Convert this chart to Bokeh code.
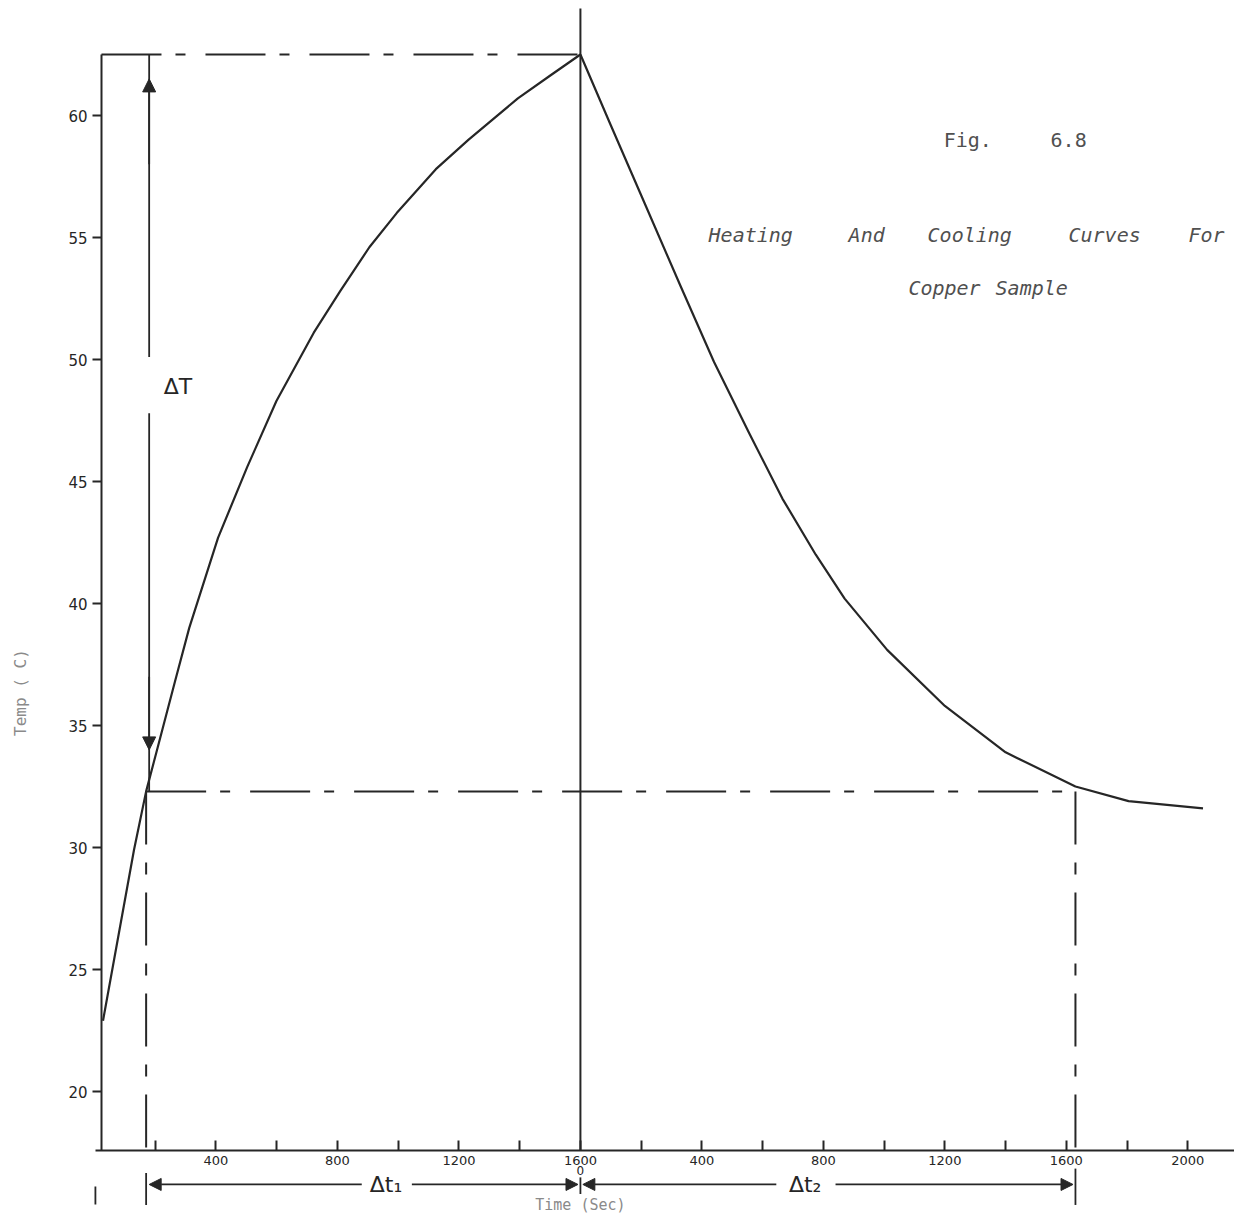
import math
from bokeh.plotting import figure
from bokeh.models import Range1d, FixedTicker, Arrow, NormalHead, ColumnDataSource
from bokeh.embed import file_html
from bokeh.resources import INLINE
from bokeh.core.properties import value

# ---------------- data ----------------
heat_time = [28, 130, 170, 208, 265, 312, 407, 503, 599, 722, 809, 905, 995, 1124, 1231, 1394, 1502, 1600]
heat_temp = [22.9, 29.9, 32.3, 34.1, 36.8, 39.0, 42.7, 45.6, 48.3, 51.1, 52.8, 54.6, 56.0, 57.8, 59.0, 60.7, 61.65, 62.5]

cool_time = [0, 100, 215, 330, 440, 555, 665, 775, 870, 1010, 1200, 1400, 1630, 1805, 2050]
cool_temp = [62.5, 59.6, 56.3, 53.0, 49.9, 47.0, 44.3, 42.0, 40.2, 38.1, 35.8, 33.9, 32.5, 31.9, 31.6]

peak_time = 1600      # heating ends / cooling starts (cooling time 0)
peak_temp = 62.5
ref_temp = 32.3       # dash-dot reference temperature
dt1_start = 170       # heating time where curve crosses ref_temp
dt2_end = 1630        # cooling time where curve crosses ref_temp

heat_tick_values = [200, 400, 600, 800, 1000, 1200, 1400, 1600]
heat_tick_labels = ["", "400", "", "800", "", "1200", "", "1600"]
cool_tick_values = [200, 400, 600, 800, 1000, 1200, 1400, 1600, 1800, 2000]
cool_tick_labels = ["", "400", "", "800", "", "1200", "", "1600", "", "2000"]
y_tick_values = [20, 25, 30, 35, 40, 45, 50, 55, 60]

# ---------------- build ----------------
ink = "#262626"
gray = "#8a8a8a"
title_gray = "#505050"
dashdot = "60 14 10 20"

W, H = 1234, 1216
PX_PER_S = 0.3037
PX_PER_C = 24.4
x_lo = -94 / PX_PER_S
x_hi = x_lo + W / PX_PER_S
y_hi = 60 + 115 / PX_PER_C
y_lo = y_hi - H / PX_PER_C

axis_temp = 17.58     # where the time axis is drawn
axis_time = 23        # where the temperature axis is drawn
top_line = 64.385     # upper end of the peak line

heat_x = list(heat_time)
cool_x = [peak_time + t for t in cool_time]

ticks = list(heat_tick_values) + [peak_time + t for t in cool_tick_values]
overrides = {}
for v, lab in zip(heat_tick_values, heat_tick_labels):
    overrides[v] = lab
for v, lab in zip(cool_tick_values, cool_tick_labels):
    overrides[peak_time + v] = lab

p = figure(width=W, height=H, output_backend="svg", toolbar_location=None,
           x_range=Range1d(x_lo, x_hi), y_range=Range1d(y_lo, y_hi),
           min_border=0, min_border_left=0, min_border_right=0,
           min_border_top=0, min_border_bottom=0)
p.grid.visible = False
p.outline_line_color = None
p.background_fill_color = "white"
p.border_fill_color = "white"

xa = p.xaxis[0]
xa.fixed_location = axis_temp
xa.bounds = (3, x_hi)
xa.ticker = FixedTicker(ticks=ticks)
xa.major_label_overrides = overrides
xa.major_tick_in = 10
xa.major_tick_out = 0
xa.minor_tick_line_color = None
xa.axis_line_width = 2
xa.axis_line_color = ink
xa.major_tick_line_width = 2
xa.major_tick_line_color = ink
xa.major_label_standoff = 5
xa.major_label_text_font = "DejaVu Sans"
xa.major_label_text_font_size = "13px"
xa.major_label_text_color = ink

ya = p.yaxis[0]
ya.fixed_location = axis_time
ya.bounds = (axis_temp, peak_temp)
ya.ticker = FixedTicker(ticks=y_tick_values)
ya.major_tick_in = 0
ya.major_tick_out = 9
ya.minor_tick_line_color = None
ya.axis_line_width = 2
ya.axis_line_color = ink
ya.major_tick_line_width = 2
ya.major_tick_line_color = ink
ya.major_label_standoff = 5
ya.major_label_text_font = "DejaVu Sans"
ya.major_label_text_font_size = "15px"
ya.major_label_text_color = ink

# curves
p.line(heat_x, heat_temp, line_width=2.2, line_color=ink, line_join="round")
p.line(cool_x, cool_temp, line_width=2.2, line_color=ink, line_join="round")

# vertical line at the peak (end of heating / start of cooling)
p.segment(x0=[peak_time], y0=[axis_temp], x1=[peak_time], y1=[top_line], line_width=2, line_color=ink)

# dash-dot construction lines
p.segment(x0=[axis_time, dt1_start], y0=[peak_temp, ref_temp],
          x1=[peak_time, peak_time + dt2_end], y1=[peak_temp, ref_temp],
          line_width=2, line_color=ink, line_dash=dashdot)
p.segment(x0=[dt1_start, peak_time + dt2_end], y0=[ref_temp, ref_temp],
          x1=[dt1_start, peak_time + dt2_end], y1=[axis_temp, axis_temp],
          line_width=2, line_color=ink, line_dash="53 18 12 18")

# Delta T double arrow
x_dT = 180
p.segment(x0=[x_dT, x_dT], y0=[50.1, 47.8], x1=[x_dT, x_dT], y1=[peak_temp, ref_temp],
          line_width=1.8, line_color=ink)
head = dict(size=13, fill_color=ink, line_color=ink)
p.add_layout(Arrow(x_start=x_dT, y_start=58.0, x_end=x_dT, y_end=61.5,
                   end=NormalHead(**head), line_color=ink, line_width=1.8))
p.add_layout(Arrow(x_start=x_dT, y_start=37.0, x_end=x_dT, y_end=34.0,
                   end=NormalHead(**head), line_color=ink, line_width=1.8))
p.text(x=[275], y=[48.9], text=["\u0394T"], text_font=value("DejaVu Sans"),
       text_font_size="22px", text_color=ink, text_align="center", text_baseline="middle")

# title texts
title_src = ColumnDataSource(dict(
    x=[2022, 2483, 2743, 3207, 3602, 2680, 2967],
    y=[55.12, 55.12, 55.12, 55.12, 55.12, 52.95, 52.95],
    t=["Heating", "And", "Cooling", "Curves", "For", "Copper", "Sample"]))
p.text(x="x", y="y", text="t", source=title_src, text_font=value("DejaVu Sans Mono"),
       text_font_size="20px", text_font_style="italic", text_color=title_gray,
       text_align="left", text_baseline="middle")
p.text(x=[2796, 3148], y=[58.98, 58.98], text=["Fig.", "6.8"], text_font=value("DejaVu Sans Mono"),
       text_font_size="20px", text_color=title_gray, text_align="left", text_baseline="middle")

# ---- below the axis: Delta t arrows ----
yb = 16.19
ln = dict(line_color=ink, line_width=1.8)
def head12():
    return NormalHead(size=12, fill_color=ink, line_color=ink)
p.add_layout(Arrow(x_start=880, y_start=yb, x_end=dt1_start + 10, y_end=yb, end=head12(), **ln))
p.add_layout(Arrow(x_start=1045, y_start=yb, x_end=peak_time - 8, y_end=yb, end=head12(), **ln))
p.add_layout(Arrow(x_start=2245, y_start=yb, x_end=peak_time + 8, y_end=yb, end=head12(), **ln))
p.add_layout(Arrow(x_start=2440, y_start=yb, x_end=peak_time + dt2_end - 8, y_end=yb, end=head12(), **ln))
# end bars and small marks
p.segment(x0=[dt1_start, peak_time + dt2_end, peak_time, 3],
          y0=[16.66, 16.84, 16.48, 16.11],
          x1=[dt1_start, peak_time + dt2_end, peak_time, 3],
          y1=[15.35, 15.35, 15.8, 15.37], **ln)

p.text(x=[960, 2340], y=[yb, yb], text=["\u0394t\u2081", "\u0394t\u2082"], text_font=value("DejaVu Sans"),
       text_font_size="22px", text_color=ink, text_align="center", text_baseline="middle")
p.text(x=[peak_time], y=[16.76], text=["0"], text_font=value("DejaVu Sans"),
       text_font_size="12px", text_color=ink, text_align="center", text_baseline="middle")

# axis titles
p.text(x=[peak_time], y=[15.33], text=["Time (Sec)"], text_font=value("DejaVu Sans Mono"),
       text_font_size="15px", text_color=gray, text_align="center", text_baseline="middle")
p.text(x=[-244], y=[36.35], text=["Temp ( C)"], text_font=value("DejaVu Sans Mono"),
       text_font_size="16px", text_color=gray, text_align="center", text_baseline="middle",
       angle=math.pi / 2)

open("out.html", "w").write(file_html(p, INLINE))
